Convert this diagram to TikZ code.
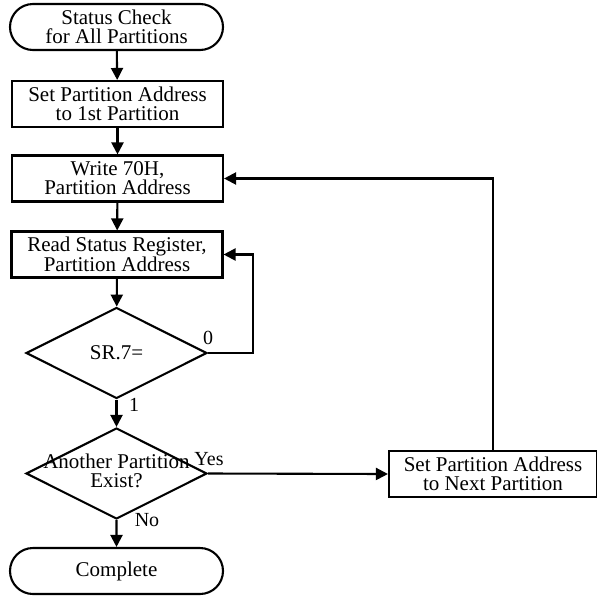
\documentclass[tikz,border=0pt]{standalone}
\usepackage{fontspec}
\setmainfont{Liberation Serif}
\usetikzlibrary{arrows.meta,shapes.geometric,shapes.misc}
\begin{document}
\begin{tikzpicture}[x=1pt,y=-1pt,
  every node/.style={font=\fontsize{21}{19}\selectfont, align=center, inner sep=0pt},
  lw/.style={line width=2.1pt},
  term/.style={lw, draw, rounded rectangle, minimum width=213pt, minimum height=46pt},
  procbox/.style={lw, draw, rectangle, minimum width=211pt, minimum height=46pt},
  dia/.style={lw, draw, diamond, minimum width=181pt, minimum height=91pt},
  lbl/.style={font=\fontsize{20}{18}\selectfont},
  arr/.style={lw, -{Triangle[length=12pt,width=12pt]}},
  conn/.style={lw}
]
\useasboundingbox (0,0) rectangle (597,595);
\node[term] (start) at (116.5,27) {Status Check\\for All Partitions};
\node[procbox] (b1) at (117.5,104) {Set Partition Address\\to 1st Partition};
\node[procbox] (b2) at (117.5,178.5) {Write 70H,\\Partition Address};
\node[procbox] (b3) at (117,254.5) {Read Status Register,\\Partition Address};
\node[dia] (d1) at (116.5,353) {};
\node (t1) at (d1) {SR.7=};
\node[dia] (d2) at (116.5,473.5) {};
\node (t2) at ([yshift=3pt]d2.center) {Another Partition\\Exist?};
\node[procbox, minimum width=208pt] (b4) at (493,474) {Set Partition Address\\to Next Partition};
\node[term] (end) at (116.5,571) {Complete};
\coordinate (lp) at (253,253);

\draw[arr] (start) -- (b1);
\draw[arr] (b1) -- (b2);
\draw[arr] (b2) -- (b3);
\draw[arr] (b3) -- (d1);
\draw[arr] (d1) -- (d2);
\draw[arr] (d2) -- (end);
\draw[arr] (d1.east) -- (d1.east -| lp) |- (b3.east);
\draw[arr] (d2.east) -- (b4.west);
\draw[arr] (b4.north) |- (b2.east);

\node[lbl] (l0) at (208,338) {0};
\node[lbl] (l1) at (134,405) {1};
\node[lbl] (lyes) at (209,459) {Yes};
\node[lbl] (lno) at (147,520) {No};
\end{tikzpicture}
\end{document}
